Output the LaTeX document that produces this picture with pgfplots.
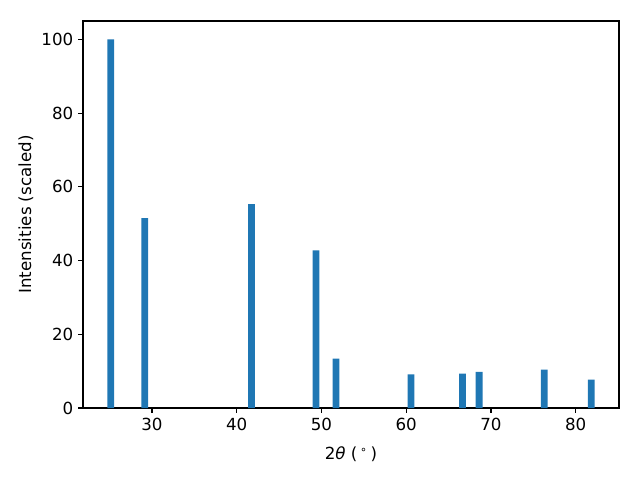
\documentclass[border=0pt]{standalone}
\usepackage{pgfplots}
\pgfplotsset{compat=1.18}
\usepackage{fontspec}
\setmainfont{DejaVu Sans}
\definecolor{mplblue}{HTML}{1F77B4}
\begin{document}
\begin{tikzpicture}
\begin{axis}[
  scale only axis,
  width=385.9pt, height=278.6pt,
  xmin=21.86, xmax=85.1,
  ymin=0, ymax=105,
  ybar, bar width=0.8,
  xtick={30,40,50,60,70,80},
  ytick={0,20,40,60,80,100},
  tick align=outside,
  xtick pos=bottom, ytick pos=left,
  major tick length=3.5pt,
  tick style={black, line width=0.8pt},
  axis line style={line width=0.8pt},
  /pgf/number format/assume math mode=true,
  ticklabel style={font=\fontsize{12}{14}\selectfont},
  label style={font=\fontsize{12}{14}\selectfont},
  xlabel={2{\itshape θ} (\,\textsuperscript{∘}\,)},
  ylabel={Intensities (scaled)},
  xlabel style={yshift=-5pt},
  ylabel style={yshift=-1pt},
]
\addplot[fill=mplblue, draw=none] coordinates {
(25.13,100) (29.15,51.5) (41.73,55.3) (49.35,42.8) (51.71,13.4)
(60.57,9.1) (66.65,9.3) (68.60,9.8) (76.28,10.4) (81.83,7.7)
};
\end{axis}
\path (current axis.south west) ++(-59.76pt,-51.84pt) rectangle ++(460.8pt,345.6pt);
\end{tikzpicture}
\end{document}
